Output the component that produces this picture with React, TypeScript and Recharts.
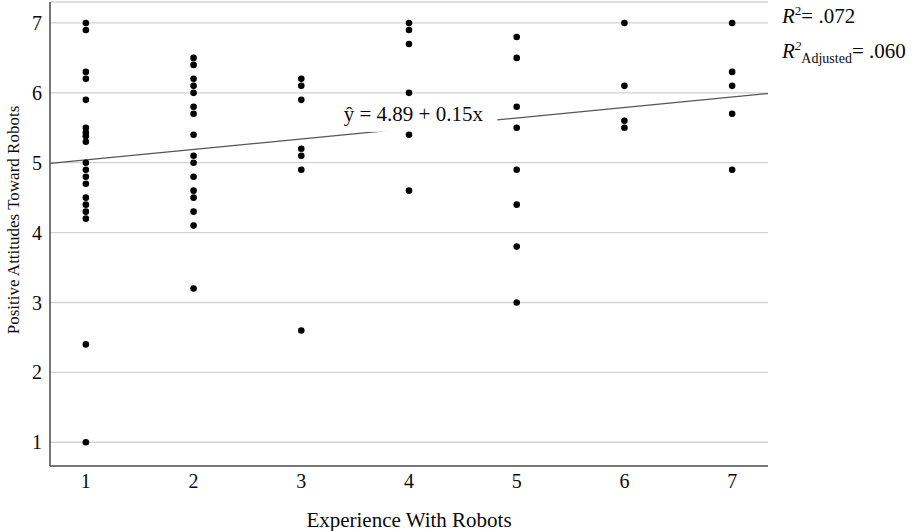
import React from "react";
import {
  ScatterChart,
  Scatter,
  XAxis,
  YAxis,
  CartesianGrid,
  ReferenceLine,
  ReferenceDot,
  Customized,
} from "recharts";

// experience level (x) and the attitude scores
const experienceLevels = [1, 2, 3, 4, 5, 6, 7];
const attitudesAt1 = [7.0, 6.9, 6.3, 6.2, 5.9, 5.5, 5.43, 5.38, 5.3, 5.0, 4.9, 4.8, 4.7, 4.5, 4.4, 4.3, 4.2, 2.4, 1.0];
const attitudesAt2 = [6.5, 6.4, 6.2, 6.1, 6.0, 5.8, 5.7, 5.4, 5.1, 5.0, 4.8, 4.6, 4.5, 4.3, 4.1, 3.2];
const attitudesAt3 = [6.2, 6.1, 5.9, 5.2, 5.1, 4.9, 2.6];
const attitudesAt4 = [7.0, 6.9, 6.7, 6.0, 5.4, 4.6];
const attitudesAt5 = [6.8, 6.5, 5.8, 5.5, 4.9, 4.4, 3.8, 3.0];
const attitudesAt6 = [7.0, 6.1, 5.6, 5.5];
const attitudesAt7 = [7.0, 6.3, 6.1, 5.7, 4.9];
const attitudeColumns = [attitudesAt1, attitudesAt2, attitudesAt3, attitudesAt4, attitudesAt5, attitudesAt6, attitudesAt7];

const xTicks = [1, 2, 3, 4, 5, 6, 7];
const yTicks = [1, 2, 3, 4, 5, 6, 7];

const intercept = 4.89;
const slope = 0.15;
const rSquared = ".072";
const rSquaredAdjusted = ".060";
const equationText = "ŷ = 4.89 + 0.15x";

const X_DOMAIN: [number, number] = [0.667, 7.333];
const Y_DOMAIN: [number, number] = [0.66, 7.3];

const FONT = "'Liberation Serif', 'Times New Roman', serif";
const INK = "#0a0a0a";

const points = experienceLevels.flatMap((x, i) => attitudeColumns[i].map((y) => ({ x, y })));
const fitSegment = X_DOMAIN.map((x) => ({ x, y: intercept + slope * x }));

const Dot = (props: any) => <circle cx={props.cx} cy={props.cy} r={3.3} fill="#000" />;

const EquationLabel = (props: any) => {
  const { cx, cy } = props;
  return (
    <g>
      <rect x={cx - 77} y={cy - 17} width={161} height={35} fill="#fff" />
      <text x={cx} y={cy + 7} textAnchor="middle" fontFamily={FONT} fontSize={21} fill={INK}>
        {equationText}
      </text>
    </g>
  );
};

const Annotations = () => (
  <g fontFamily={FONT} fill={INK}>
    <text x={13} y={220} fontSize={17} textAnchor="middle" dominantBaseline="central" transform="rotate(-90 13 220)">
      Positive Attitudes Toward Robots
    </text>
    <text x={782} y={23} fontSize={21}>
      <tspan fontStyle="italic">R</tspan>
      <tspan fontSize={13} dy={-8}>2</tspan>
      <tspan dy={8}>= {rSquared}</tspan>
    </text>
    <text x={782} y={57.5} fontSize={21}>
      <tspan fontStyle="italic">R</tspan>
      <tspan fontSize={13} fontStyle="italic" dy={-8}>2</tspan>
      <tspan fontSize={14} dy={13}>Adjusted</tspan>
      <tspan dy={-5}>= {rSquaredAdjusted}</tspan>
    </text>
  </g>
);

const App = () => {
  return (
    <div style={{ position: "absolute", left: 0, top: 0, background: "#fff" }}>
      <ScatterChart width={913} height={531} margin={{ top: 2, right: 145, bottom: 0, left: 0 }}>
        <CartesianGrid vertical={false} stroke="#d2d2d2" strokeWidth={1.3} />
        <XAxis
          type="number"
          dataKey="x"
          domain={X_DOMAIN}
          ticks={xTicks}
          tickLine={false}
          height={65}
          axisLine={{ stroke: "#555", strokeWidth: 1.6 }}
          tick={{ fill: INK, fontSize: 20, fontFamily: FONT }}
          label={{
            value: "Experience With Robots",
            position: "insideBottom",
            offset: 4,
            fill: INK,
            fontSize: 21,
            fontFamily: FONT,
          }}
        />
        <YAxis
          type="number"
          dataKey="y"
          domain={Y_DOMAIN}
          ticks={yTicks}
          tickLine={false}
          width={50}
          axisLine={{ stroke: "#555", strokeWidth: 1.6 }}
          tick={{ fill: INK, fontSize: 20, fontFamily: FONT }}
        />
        <ReferenceLine segment={fitSegment} stroke="#555" strokeWidth={1.3} />
        <ReferenceDot x={4.04} y={5.7} shape={EquationLabel} />
        <Scatter data={points} shape={Dot} isAnimationActive={false} />
        <Customized component={Annotations} />
      </ScatterChart>
    </div>
  );
};

export default App;
